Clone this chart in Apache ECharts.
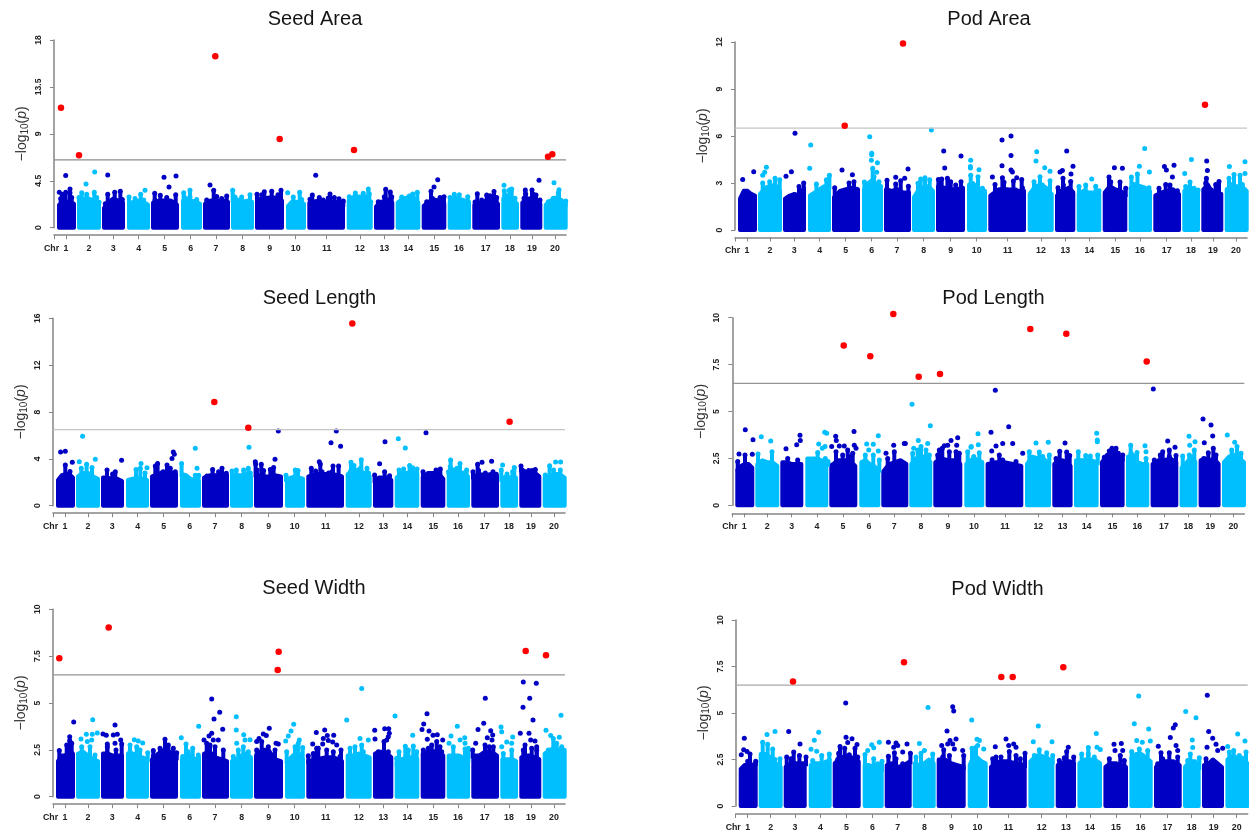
<!DOCTYPE html>
<html>
<head>
<meta charset="utf-8">
<style>html,body{margin:0;padding:0;background:#fff}#c{width:1249px;height:832px}</style>
<script src="https://cdn.jsdelivr.net/npm/echarts@6/dist/echarts.min.js"></script>
</head>
<body>
<div id="c"></div>
<script>
// Chromosome spans and tick positions on the shared genome axis
const chromLabels = ['1','2','3','4','5','6','7','8','9','10','11','12','13','14','15','16','17','18','19','20'];
const chromStart = [0,20,45,70,94,124,146,174,198,229,250.3,289.7,317,338.7,364.7,390.7,415.3,444.3,463.3,486.7];
const chromEnd = [19,44,68,93,122,145,173,197,227,249,288,315.7,337.3,363.3,389.3,414,443,462,485.3,510.7];
const chromTicks = [9,32,56.3,81.7,107.7,133.7,159,185.7,212.7,238.7,269.7,303,327.3,351.3,377.3,402,428.7,453,475,498];
const threshold = 6.5;

// Seed Area
const seedAreaTops = [[2.2,2.5,2.5,2.5,2.3],[2.5,2.8,2.8,2.6,2.2],[1.9,2.5,2.8,2.6,2.4],[2.3,2.5,2.6,2.5,2.2],[2.4,2.6,2.6,2.6,2.2],[2.6,2.8,2.6,2.5,2.3],[2.3,2.6,2.5,2.6,2.5],[2.7,2.7,2.5,2.6,2.5],[2.7,2.8,2.9,2.9,2.6],[2.1,2.5,2.5,2.4,2.3],[2.4,2.6,2.5,2.5,2.3],[2.6,3.0,3.0,3.0,2.4],[2.0,2.5,2.5,2.6,2.4],[2.4,2.8,2.9,2.9,2.4],[2.1,2.5,2.7,2.6,2.3],[2.5,2.9,2.8,2.6,2.5],[2.2,2.4,2.6,2.6,2.3],[2.8,3.0,2.8,2.7,2.3],[2.4,2.8,2.8,2.6,2.3],[2.2,2.6,2.9,2.7,2.3]];
const seedAreaHits = [[4,11.5],[22,6.95],[158.3,16.45],[222.7,8.5],[297,7.45],[491,6.8],[495.3,7.05]];
const seedAreaDots = [[8.7,5],[2.3,3.4],[5,3.2],[8.7,3.4],[13,3.7],[13,3.35],[3.7,2.8],[14.7,2.9],[37.7,5.35],[29,4.2],[24.7,3.35],[29.7,3.2],[37.3,3.4],[22,2.9],[39.7,2.9],[42,2.45],[50.7,5.05],[50.7,3.2],[57.7,3.4],[63.3,3.5],[65.3,2.7],[48.3,2.3],[88,3.6],[83.7,3.2],[72,2.95],[78,2.8],[86.7,2.65],[107,4.85],[119,4.95],[112,3.9],[97.7,3.3],[103.3,3.1],[98,2.65],[109.7,2.9],[118.7,3.15],[133,3.6],[126.7,3.35],[133,2.95],[139.7,2.7],[127.3,2.95],[153,4.1],[156.7,3.6],[159.7,3],[169.7,3.05],[164.7,2.8],[149.7,2.65],[175.7,3.6],[184.7,2.95],[193,3.15],[178,2.95],[224,3.6],[200,3.2],[207.3,3.45],[214.7,3.5],[221,3.15],[204.7,3.15],[230.7,3.35],[242.7,3.4],[236.3,2.95],[244.7,2.7],[258.7,5.02],[255.3,3.14],[253,2.72],[262.3,2.9],[273,3.23],[271.3,2.85],[277.3,2.9],[282,2.78],[286.3,2.56],[266.3,2.66],[298.3,3.33],[306.3,3.3],[311.3,3.71],[312.3,3.26],[292.3,2.98],[301.3,2.82],[313.7,2.5],[328.7,3.68],[333.3,3.42],[327.3,2.98],[334.7,2.98],[321.3,2.5],[331.3,2.66],[360.3,3.39],[355.7,3.23],[352.3,3.04],[344.7,2.94],[358,2.72],[349,2.78],[380.7,4.61],[377,3.9],[374,3.49],[375.3,2.82],[387,2.98],[383,2.9],[369.7,2.5],[402.3,3.17],[397.3,3.2],[410.7,2.98],[393,2.9],[406.3,2.6],[399.7,2.78],[420.3,3.26],[429.7,3.14],[433,3.07],[437,3.46],[439.7,2.9],[424.7,2.66],[418,2.46],[447,4.06],[447.3,3.55],[454.7,3.71],[452.3,3.62],[448,3.14],[458,2.82],[482,4.54],[468.3,3.62],[475,3.62],[468.7,3.23],[476.3,3.2],[479,3.14],[467,2.82],[474.7,2.82],[483,2.66],[497,4.32],[502,3.65],[501.3,3.36],[508.7,2.56],[496.3,2.82],[491.3,2.5]];

// Pod Area
const podAreaTops = [[2.0,2.5,2.5,2.3,2.2],[2.3,2.7,2.8,2.9,2.5],[2.0,2.2,2.3,2.2,2.7],[2.2,2.4,2.6,2.8,2.8],[2.1,2.5,2.6,2.7,2.6],[2.6,3.0,3.2,2.9,2.5],[2.6,2.5,2.6,2.4,2.4],[2.1,2.6,2.7,2.8,2.5],[2.8,2.7,2.6,2.6,2.7],[2.9,3.0,2.7,2.6,2.5],[2.2,2.6,2.6,2.5,2.5],[2.3,2.8,2.9,2.7,2.3],[2.2,2.5,2.6,2.7,2.4],[2.3,2.5,2.4,2.4,2.3],[2.4,2.8,2.6,2.5,2.3],[2.7,2.9,2.8,2.7,2.5],[2.2,2.4,2.5,2.6,2.3],[2.5,2.6,2.5,2.4,2.3],[2.6,2.9,2.4,2.4,2.3],[2.6,2.8,2.8,2.8,2.5]];
const podAreaHits = [[165,11.9],[106.7,6.65],[467,8]];
const podAreaDots = [[15.7,3.72],[4.7,3.23],[28.4,4],[26.7,3.68],[24.7,3.5],[37,3.3],[41.7,3.2],[31.7,3.08],[24.7,3],[57,6.17],[53.4,3.72],[48,3.43],[65.7,3],[61,2.77],[72.7,5.42],[71.7,3.94],[91.4,3.5],[88.4,3.2],[78.4,2.93],[104,3.83],[114.4,3.53],[111,3],[116,3.08],[96.7,2.7],[131.7,5.95],[133.7,4.9],[133.7,4.8],[133.4,4.45],[139.4,4.3],[126.4,3.06],[134.7,3.94],[138.7,3.68],[136,3.4],[141,3.08],[142.7,2.77],[170,3.9],[157.7,3.36],[149,3.17],[166.7,3.3],[162.7,3.15],[157.7,2.94],[170.4,2.8],[193.4,6.38],[182.7,3.26],[187,3.34],[191.7,3.2],[180,2.98],[190.4,2.55],[205.7,5.05],[206.7,3.95],[223,4.72],[200.4,3.23],[203.7,3.26],[209.4,3.3],[212.7,3.08],[223,3.08],[217.7,2.87],[232.7,4.45],[232.4,4.05],[232.4,3.95],[241,3.85],[232.7,3.5],[240,3.4],[244.4,2.66],[264,5.75],[273,6],[273,4.75],[264,4.1],[273,3.83],[274.4,3.7],[254.4,3.38],[278.7,3.34],[283.7,3.23],[275.4,3.13],[257,2.9],[264.4,3.34],[266,3.05],[284.4,2.7],[272.7,2.55],[277.7,2.55],[298.7,5],[298,4.4],[306.7,3.98],[312,3.75],[302,3.4],[312,3.15],[296,3.08],[304.4,2.87],[328.7,5.05],[335,4.07],[324.4,3.8],[322,3.7],[333,3.57],[325,3.3],[325.4,2.87],[320,2.7],[332.7,3.1],[353.7,3.26],[347.7,2.87],[341,2.77],[357.7,2.8],[361,2.5],[376.4,3.98],[384.4,3.94],[371,3.38],[372.7,3.08],[382,3.06],[387.7,2.66],[406.7,5.2],[401.4,4.07],[411.4,3.7],[399.4,3.57],[393.4,3.38],[396,2.9],[411,2.7],[426.4,4.05],[436,4.13],[428.4,3.83],[434.4,3.38],[427.7,2.9],[432,2.87],[421,2.66],[439.4,2.5],[453.4,4.5],[446.7,3.6],[452,3.06],[447.7,2.77],[456,2.66],[460,2.55],[468.7,4.4],[469.4,3.8],[468.4,3.3],[467.7,3],[481,3.1],[477.7,2.9],[473.4,2.55],[491.4,4.05],[507,4.35],[507,3.6],[496,3.55],[502,3.5],[491,3.3],[494.4,2.9],[504.4,2.9]];

// Seed Length
const seedLengthTops = [[2.2,2.6,2.7,2.7,2.4],[2.5,2.8,2.8,2.5,2.3],[2.4,2.4,2.3,2.3,2.1],[2.2,2.3,2.4,2.3,2.2],[2.5,2.7,2.9,2.9,2.7],[2.7,2.6,2.3,2.2,2.1],[2.4,2.6,2.6,2.6,2.6],[2.6,2.6,2.6,2.7,2.5],[2.7,2.5,2.5,2.6,2.5],[2.3,2.4,2.5,2.4,2.3],[2.5,2.7,2.7,2.7,2.5],[2.7,3.0,3.1,2.8,2.5],[2.2,2.4,2.4,2.4,2.2],[2.4,2.8,2.8,2.9,2.8],[2.4,2.8,2.8,2.8,2.3],[2.9,3.1,2.9,2.7,2.5],[2.5,2.7,2.6,2.7,2.5],[2.3,2.5,2.4,2.5,2.4],[3.1,2.9,2.8,2.8,2.5],[2.4,2.6,2.7,2.7,2.4]];
const seedLengthHits = [[158.3,8.85],[192.3,6.66],[296.3,15.55],[453.6,7.17]];
const seedLengthDots = [[4.6,4.58],[9.3,4.64],[9.3,3.47],[16.3,3.7],[14,2.93],[26.6,5.92],[23.3,3.76],[30.6,3.53],[39.3,3.96],[36,3.27],[25.3,3.19],[65.6,3.87],[51,3.05],[59.3,2.9],[56.6,2.7],[85,3.6],[80,3.1],[91,3.25],[89,2.8],[84.3,3.2],[117.3,4.58],[118.3,4.4],[116,4.04],[101.6,3.6],[99.3,3.39],[111,3.47],[114.3,3.19],[107,2.9],[119.3,2.9],[139.3,4.9],[125.6,3.6],[141,3.2],[142.6,2.6],[139.3,2.6],[156.6,3.1],[166,3.19],[162.6,2.9],[170.3,2.76],[151,2.53],[193,4.98],[192.3,3.2],[180.3,3.05],[187.6,3.05],[176,2.96],[194.3,2.8],[222.3,6.38],[219,3.96],[199.3,3.76],[199.6,3.56],[205.3,3.53],[217.6,3.27],[201,3.05],[207.6,3],[214.3,3.1],[230,2.6],[239.3,3.05],[242,3],[280.3,6.38],[275,5.38],[284.6,5.07],[263.3,3.76],[264.3,3.56],[255.3,3.19],[259.6,2.96],[266,2.9],[272.6,2.8],[277,3.39],[282.6,3.39],[284.6,2.48],[276,2.9],[305.3,3.93],[295,3.7],[298,3.44],[311,3.2],[304.3,3.2],[294.3,2.9],[312.6,2.76],[323.6,3.59],[318.6,2.62],[328.6,2.9],[333.6,2.56],[329,5.47],[342.3,5.72],[349.3,4.92],[353.6,3.44],[361,3.13],[356.6,3.25],[347.6,3.13],[343,3.05],[352.6,2.76],[370,6.23],[367,2.9],[380,3.05],[384.3,3.13],[383.6,2.76],[372.6,2.48],[394.6,3.9],[404,3.6],[410.6,3.05],[394.3,3.33],[401,3.19],[392.6,2.9],[407.6,2.8],[426,3.7],[421.6,3.53],[435.6,3.8],[417,2.9],[422.6,3],[437,2.9],[440.3,2.68],[429.3,2.8],[446.6,3.47],[445.3,3.05],[458.3,3.27],[456.6,2.9],[451,2.7],[465,3.39],[479.3,3.1],[472.6,3],[466,3.05],[476,3],[493.6,3.42],[499.6,3.73],[504.6,3.73],[497.6,3.05],[504.3,3.05],[489.3,2.62]];

// Pod Length
const podLengthTops = [[1.9,2.1,2.2,2.2,2.0],[2.2,2.4,2.3,2.3,2.1],[2.3,2.3,2.2,2.2,2.2],[2.5,2.5,2.5,2.4,2.2],[2.1,2.4,2.4,2.4,2.1],[2.3,2.4,2.2,2.1,1.9],[1.8,2.2,2.3,2.4,2.2],[2.2,2.5,2.6,2.6,2.3],[2.3,2.5,2.4,2.4,2.2],[2.2,2.4,2.5,2.4,2.3],[2.2,2.3,2.3,2.2,2.1],[2.2,2.6,2.5,2.5,2.2],[2.2,2.4,2.4,2.3,2.1],[2.4,2.4,2.4,2.4,2.3],[2.3,2.7,2.7,2.7,2.5],[2.6,2.7,2.3,2.2,2.2],[2.2,2.4,2.4,2.5,2.3],[2.0,2.2,2.4,2.6,2.3],[2.4,2.5,2.4,2.5,2.2],[2.3,2.6,2.7,2.5,2.3]];
const podLengthHits = [[108.4,8.52],[135,7.94],[158,10.2],[183.4,6.85],[204.7,7],[295,9.4],[331,9.15],[411.4,7.67]];
const podLengthDots = [[10,4.03],[17.7,3.5],[3.7,2.73],[9.7,2.68],[17,2.72],[2.4,2.33],[26,3.66],[35.4,3.43],[36.7,2.86],[22.7,2.73],[64.7,3.73],[65,3.46],[61.4,3.23],[50.7,3.02],[52.4,2.5],[62.4,2.42],[89.4,3.89],[91.4,3.84],[83.4,3.27],[89.7,3.13],[87,3.04],[82.4,2.82],[90,2.5],[92.7,2.33],[100.4,3.68],[101,3.45],[96.4,3.13],[118.7,3.93],[104,3.16],[109,3.16],[119,3.2],[120.7,3.04],[112.4,2.95],[107.4,2.68],[100.7,2.86],[117.4,2.77],[97,2.15],[115.7,2.6],[131.4,3.27],[138,3.25],[143,3.71],[133.4,2.95],[143,2.9],[138,2.68],[130,2.68],[144,2.42],[158.4,3.2],[169,3.29],[170,3.3],[150.7,2.77],[159,2.86],[152.4,2.5],[176.7,5.38],[195,4.24],[183,3.45],[192.4,3.3],[178.4,3.04],[185.7,3.13],[182.4,2.95],[177.4,2.77],[190.7,2.95],[194,2.68],[222.4,3.6],[215.7,3.45],[221.4,3.2],[209,3.18],[204,2.95],[212.4,3.2],[207,3.04],[220.7,2.86],[202.4,2.68],[224,2.77],[214,2.86],[242.7,3.82],[236,3.13],[243,3.23],[232.4,2.86],[237.4,2.42],[235.7,3.1],[244,2.8],[238.4,2.6],[260,6.13],[255.7,3.89],[273.4,4.19],[277.4,3.29],[267.4,3.3],[260.7,3.16],[256.4,2.9],[264,2.68],[287.4,2.77],[256.7,2.42],[267.4,2.42],[280.7,2.33],[300.7,3.32],[313,3.36],[294,2.86],[304,2.84],[314,2.68],[307.4,2.6],[329.7,3.32],[324.4,2.88],[331.4,2.84],[334.4,2.66],[320.7,2.5],[329,2.33],[343,2.86],[350.4,2.65],[355,2.63],[361.4,3.84],[362,3.48],[362,3.39],[362.4,2.68],[380.7,3.04],[374,2.9],[376.7,3.04],[383,2.77],[387.4,2.68],[369,2.56],[395.4,3.2],[409.7,3.18],[410.7,2.86],[395.7,2.77],[401.7,2.82],[410.7,2.5],[394,2.5],[418,6.2],[432.4,3.43],[439.7,3.1],[427.4,2.86],[434,2.95],[440.7,2.66],[419,2.42],[425,2.68],[434,2.6],[453.7,3.68],[454.4,3.2],[459.7,3.39],[459,2.95],[447.4,2.63],[454,2.68],[467.7,4.6],[475.7,4.28],[477.4,3.69],[469,3.34],[478,3.04],[473,2.8],[480.7,2.68],[468.4,2.5],[492,3.75],[499.4,3.36],[501.7,3.13],[496.4,2.95],[505.7,2.77],[497.4,2.68],[490.7,2.33]];

// Seed Width
const seedWidthTops = [[1.9,2.2,2.2,2.5,2.3],[2.3,2.4,2.2,2.0,1.9],[2.3,2.3,2.2,2.2,2.2],[2.3,2.3,2.2,2.1,2.0],[2.0,2.3,2.5,2.4,2.1],[2.0,2.2,2.2,2.0,2.1],[2.3,2.4,2.1,2.0,1.9],[1.9,2.0,2.2,2.3,2.1],[2.2,2.5,2.5,2.0,1.9],[1.9,2.1,2.3,2.3,2.0],[1.9,2.0,2.1,2.1,1.9],[2.2,2.2,2.3,2.2,2.1],[2.3,2.4,2.4,2.3,2.1],[1.8,2.0,2.1,2.1,2.0],[2.3,2.4,2.4,2.4,2.2],[2.2,2.2,2.2,2.1,2.0],[2.2,2.2,2.4,2.4,2.2],[2.0,2.0,2.0,2.0,1.9],[2.1,2.2,2.2,2.1,2.0],[2.3,2.5,2.6,2.5,2.5]];
const seedWidthHits = [[3.3,7.39],[52.7,9.03],[222.7,7.74],[221.7,6.76],[469.7,7.78],[490,7.55]];
const seedWidthDots = [[17.7,3.99],[13.7,3.2],[13.7,3],[10.7,2.76],[3.3,2.46],[15.7,2.85],[36.7,4.11],[30.3,3.33],[36.3,3.33],[41.3,3.4],[25,3.08],[31.3,2.94],[35.7,3.03],[25.7,2.67],[34,2.67],[39,2.22],[59,3.83],[47,3.35],[50.3,3.28],[57.3,3.29],[61.3,3.33],[64.7,3.03],[51.3,2.81],[59,2.85],[65.7,2.81],[51.3,2.67],[60,2.49],[78.3,3.04],[82.3,2.97],[86.7,2.87],[74,2.76],[80.7,2.67],[74,2.4],[91.7,2.35],[84,2.49],[109,3.06],[97.3,2.46],[104,2.58],[112.3,2.76],[117.3,2.58],[120.7,2.35],[97.3,2.17],[142.7,3.76],[125.3,3.15],[130,2.81],[136.7,2.58],[132.3,2.4],[142.3,2.22],[126.7,2.14],[155.7,5.22],[163.7,4.5],[158,4.15],[166.7,3.6],[155.7,3.38],[153,3.24],[148,3.03],[157.3,3.03],[162.3,3.03],[150.7,2.85],[154,2.76],[167.3,2.49],[159,2.67],[180.3,4.27],[180.3,3.56],[187.7,3.31],[194,3.04],[189,3.03],[180.7,2.85],[187.3,2.67],[192.3,2.4],[182.3,2.49],[177.3,2.14],[213.3,3.65],[207.3,3.35],[210.3,3.26],[203,3.11],[200.7,2.94],[205.7,2.94],[220,2.85],[222.3,2.81],[219,2.49],[212.3,2.67],[200.7,2.49],[237.7,3.86],[235,3.5],[232.3,3.24],[229.7,2.97],[243.3,3.03],[239,2.67],[246.7,2.62],[230.7,2.4],[242.3,2.85],[260.3,3.43],[256.7,2.81],[252.3,2.19],[260.7,2.58],[268.7,3.56],[271.3,3.26],[277.7,3.28],[267.3,3.1],[272.3,3],[266.7,2.81],[276.7,2.92],[280.7,2.76],[262.3,2.58],[285,2.49],[270.7,2.49],[277.3,2.4],[257.3,2.31],[284,2.14],[305.7,5.77],[290.7,4.09],[304,3.1],[312.3,3.03],[299,2.67],[305.7,2.76],[294,2.58],[307.3,2.4],[318.7,3.54],[319,3.08],[328.7,3.63],[332.7,3.63],[333.3,3.38],[332.3,3.2],[328,2.94],[330.7,3.03],[339,4.31],[332.3,2.4],[322.3,2.4],[320,2.05],[356.7,3.28],[349.3,2.69],[357.3,2.7],[343,2.4],[352.3,2.49],[360.7,2.4],[340.7,2.05],[371,4.43],[367.7,3.88],[366,3.58],[373,3.5],[377,3.28],[381.3,3.31],[371.3,3.06],[380.7,2.94],[386.7,3.03],[375.7,2.76],[384,2.67],[367.3,2.49],[372.3,2.58],[385.7,2.4],[379,2.4],[401.3,3.76],[395,3.24],[408.7,3.15],[404,3.03],[393,2.85],[409,2.85],[397.3,2.67],[412.3,2.58],[409,2.55],[429.3,5.25],[427.7,3.92],[422,3.58],[434.7,3.52],[436.7,3.29],[431.3,3.15],[436,3.03],[419.7,2.85],[429,2.76],[433.3,2.67],[416.7,2.49],[437.3,2.67],[427.3,2.31],[445,3.72],[445.7,3.47],[456.7,3.19],[450.7,2.92],[455.7,2.85],[445.7,2.67],[455.7,2.49],[447.3,2.31],[467.3,6.12],[480.3,6.05],[473.7,5.25],[467,4.77],[477,4.09],[464.3,3.38],[473,3.38],[474.7,3.03],[479,2.97],[469,2.76],[480.7,2.67],[467.3,2.49],[480.7,2.49],[475.7,2.58],[505,4.34],[490,3.54],[494.7,3.26],[503.3,3.17],[497.3,3.11],[500.7,2.85],[505.7,2.67],[492.3,2.49]];

// Pod Width
const podWidthTops = [[2.0,2.2,2.2,2.2,2.3],[2.8,2.8,2.6,2.3,2.1],[2.1,2.3,2.3,2.3,2.3],[2.2,2.3,2.3,2.3,2.5],[2.3,2.6,2.7,2.6,2.4],[2.2,2.2,2.1,2.1,2.0],[2.2,2.3,2.1,2.2,2.4],[2.3,2.2,2.3,2.5,2.3],[2.5,2.5,2.3,2.2,2.1],[2.2,2.7,2.6,2.4,2.3],[2.1,2.4,2.4,2.3,2.2],[2.4,2.7,2.7,2.6,2.4],[2.2,2.3,2.4,2.4,2.3],[2.3,2.5,2.5,2.5,2.3],[2.1,2.3,2.3,2.2,2.1],[2.6,2.8,2.8,2.6,2.4],[2.1,2.4,2.4,2.4,2.2],[2.1,2.3,2.4,2.4,2.1],[2.2,2.3,2.5,2.3,2.1],[2.5,2.7,2.6,2.6,2.3]];
const podWidthHits = [[54.3,6.7],[165.3,7.73],[262.6,6.93],[274,6.94],[324.6,7.46]];
const podWidthDots = [[5.6,3.64],[5,3.02],[8.3,2.93],[11.3,2.8],[2.6,2.75],[9,2.4],[17,2.4],[28.3,3.84],[36.3,4],[24,3.43],[29,3.32],[34,3.07],[41.3,2.54],[36.3,2.5],[50,4.01],[61.3,3.34],[55,2.9],[48,2.63],[60.7,2.72],[67.3,2.63],[52.3,2.54],[80,3.96],[75.6,3.53],[72.3,3.05],[78,2.95],[83,2.72],[90.6,2.8],[74,2.45],[87.3,2.36],[107,5.54],[107.3,3.69],[113.3,3.62],[109,3.41],[101.3,3.2],[106,3.1],[118.3,3.3],[116.3,3.1],[100,2.84],[110.6,2.75],[99,2.5],[119,2.63],[140.6,3.43],[133,3.29],[135,3.13],[129,2.98],[126.3,2.77],[135,2.54],[143.3,2.41],[139,2.27],[149.7,3.43],[157.3,3.39],[168.3,3.34],[159,3.25],[155,3.16],[149.7,2.68],[155.7,2.86],[164,2.9],[171.7,2.84],[157.3,2.54],[164,2.27],[189.3,5.29],[180.7,3.36],[185.7,2.98],[182.3,2.84],[177.3,2.63],[194,2.8],[214,5.33],[215,5.11],[208.3,4.03],[217.3,3.6],[211.3,3.52],[203,3.25],[209,3.34],[214,3.34],[205,3.02],[215.7,3.07],[224,2.98],[225,2.72],[210.7,2.72],[204,2.63],[233,4.62],[238.3,3.59],[240.7,3.52],[233.3,3.1],[237.3,3.16],[239,3.25],[245,3.07],[235.7,2.8],[267.3,3.6],[256.6,3.18],[275,3.34],[277.3,3.16],[270,3.25],[270.6,2.93],[286.3,2.84],[254,2.54],[262.3,2.63],[277.3,2.72],[257.3,2.63],[281.6,2.54],[299.6,4.3],[294.6,3.45],[313.3,3.45],[300.6,3.02],[308,2.86],[295.6,2.72],[314,2.72],[329.6,3.16],[328,2.93],[335,2.63],[325.6,2.6],[320.6,2.45],[357.6,3.9],[349.6,3.14],[358.3,3.16],[361.6,3.04],[343,2.8],[349.6,2.8],[355.6,2.63],[375.3,3.32],[382.6,3.36],[384,2.98],[376.3,2.98],[381.6,2.72],[370.6,2.54],[385.6,2.45],[400,5.91],[395.6,4.42],[410,4.14],[398,3.52],[403.6,3.43],[411.6,3.5],[393,2.93],[400.6,3.07],[409,2.98],[404,2.72],[447,5.08],[457.3,4.74],[436.6,4.37],[434.6,4.19],[431.6,3.68],[419.6,3.21],[437.3,3.25],[439,2.98],[430.6,2.86],[422.3,2.86],[419,2.27],[424,2.54],[439,2.63],[453.6,3.55],[454,3.14],[451.6,2.8],[460.6,2.6],[449,2.45],[468.6,5.95],[470,4.01],[474,3.64],[468.3,3.16],[477.3,3.32],[484,3.1],[479,2.98],[474,2.45],[467.3,2.54],[499,3.87],[506.3,3.5],[489,3.2],[495,2.98],[490.6,2.9],[507.3,2.9],[500.6,2.72]];

const DARK = '#0000c4', LIGHT = '#00bfff', RED = '#ff0000', AXIS = '#858585', INK = '#222';
const FONT = '"Liberation Sans", Arial, sans-serif';
const X_MIN = -3, X_MAX = 509, STEM_PX = 12;

const panels = [
  {name:'Seed Area',   tops:seedAreaTops,   dots:seedAreaDots,   hits:seedAreaHits,   yMax:18, step:4.5, left:54,    top:40,    h:187.7, cx:315,   cy:19,  line:'#8c8c8c', off:7.5},
  {name:'Pod Area',    tops:podAreaTops,    dots:podAreaDots,    hits:podAreaHits,    yMax:12, step:3,   left:735,   top:42,    h:188,   cx:989,   cy:19,  line:'#c4c4c4', off:7.5},
  {name:'Seed Length', tops:seedLengthTops, dots:seedLengthDots, hits:seedLengthHits, yMax:16, step:4,   left:53,    top:318.3, h:187.4, cx:319.5, cy:298, line:'#c4c4c4', off:7.5},
  {name:'Pod Length',  tops:podLengthTops,  dots:podLengthDots,  hits:podLengthHits,  yMax:10, step:2.5, left:732.3, top:317.7, h:187.6, cx:993.5, cy:298, line:'#959595', off:8},
  {name:'Seed Width',  tops:seedWidthTops,  dots:seedWidthDots,  hits:seedWidthHits,  yMax:10, step:2.5, left:53,    top:609.3, h:187.4, cx:314,   cy:588, line:'#959595', off:7.5},
  {name:'Pod Width',   tops:podWidthTops,   dots:podWidthDots,   hits:podWidthHits,   yMax:10, step:2.5, left:735.7, top:620,   h:187.7, cx:997.5, cy:589, line:'#a8a8a8', off:8}
];

function chromIndex(x){
  for (let i = 0; i < chromEnd.length; i++) if (x <= chromEnd[i] + 0.5) return i;
  return chromEnd.length - 1;
}
function localTop(tops, x){
  const i = chromIndex(x), t = tops[i], s = chromStart[i] + 2, e = chromEnd[i] - 2;
  const f = Math.max(0, Math.min(1, (x - s) / (e - s))) * (t.length - 1), k = Math.min(Math.floor(f), t.length - 2);
  return t[k] + (t[k + 1] - t[k]) * (f - k);
}
function bodyRender(tops){
  return function(params, api){
    const i = api.value(2), s = chromStart[i] + 2, e = chromEnd[i] - 2, t = tops[i];
    const pts = [api.coord([s, 0])];
    t.forEach((v, k) => pts.push(api.coord([s + (e - s) * k / (t.length - 1), v])));
    pts.push(api.coord([e, 0]));
    const c = i % 2 ? LIGHT : DARK;
    return {type:'polygon', shape:{points:pts}, style:{fill:c, stroke:c, lineWidth:4, lineJoin:'round'}};
  };
}
// Dots close above the dense mass merge with it, as overplotted points do
function stemRender(tops){
  return function(params, api){
    const x = api.value(0), y = api.value(1), a = api.coord([x, y]), b = api.coord([x, localTop(tops, x)]);
    if (b[1] - a[1] > STEM_PX) return null;
    const c = chromIndex(x) % 2 ? LIGHT : DARK;
    return {type:'line', shape:{x1:a[0], y1:a[1], x2:b[0], y2:b[1] + 3}, style:{stroke:c, lineWidth:4}};
  };
}

const option = {
  animation:false,
  backgroundColor:'#fff',
  title:panels.map(p => ({text:p.name, left:p.cx, top:p.cy - 10, padding:0, textAlign:'center',
    textStyle:{fontFamily:FONT, fontSize:20, fontWeight:'normal', color:'#151515'}})),
  grid:panels.map(p => ({left:p.left, top:p.top, width:X_MAX - X_MIN, height:p.h, containLabel:false})),
  xAxis:panels.map((p, g) => ({
    type:'value', gridIndex:g, min:X_MIN, max:X_MAX, position:'bottom', offset:p.off,
    axisLine:{show:true, onZero:false, lineStyle:{color:AXIS, width:1.5}},
    axisTick:{show:true, length:4, lineStyle:{color:AXIS, width:1}, customValues:[X_MIN].concat(chromTicks)},
    axisLabel:{show:true, margin:9, fontFamily:FONT, fontSize:8.8, fontWeight:'bold', color:INK, hideOverlap:false,
      customValues:[X_MIN].concat(chromTicks),
      rich:{c:{fontFamily:FONT, fontSize:8.8, fontWeight:'bold', color:INK, padding:[0,5,0,0]}},
      formatter:v => v === X_MIN ? '{c|Chr}' : chromLabels[chromTicks.indexOf(v)]},
    splitLine:{show:false}
  })),
  yAxis:panels.map((p, g) => ({
    type:'value', gridIndex:g, min:0, max:p.yMax, interval:p.step,
    name:'{t|\u2212log}{s|10}{t|(}{i|p}{t|)}', nameLocation:'middle', nameGap:24, nameRotate:90, nameMoveOverlap:false,
    nameTextStyle:{rich:{
      t:{fontFamily:FONT, fontSize:14, color:'#333'},
      s:{fontFamily:FONT, fontSize:10, color:'#333', padding:[5,0,0,0]},
      i:{fontFamily:FONT, fontSize:14, fontStyle:'italic', color:'#333'}}},
    axisLine:{show:true, onZero:false, lineStyle:{color:AXIS, width:1.5}},
    axisTick:{show:true, length:4, lineStyle:{color:AXIS, width:1}},
    axisLabel:{show:true, rotate:90, margin:11, fontFamily:FONT, fontSize:8.6, fontWeight:'bold', color:INK},
    splitLine:{show:false}
  })),
  series:panels.flatMap((p, g) => [
    {type:'custom', name:p.name + ' mass', xAxisIndex:g, yAxisIndex:g, clip:false, silent:true, z:2,
      encode:{x:0, y:1}, renderItem:bodyRender(p.tops),
      data:chromStart.map((s, i) => [s, Math.max.apply(null, p.tops[i]), i])},
    {type:'custom', name:p.name + ' overplot', xAxisIndex:g, yAxisIndex:g, clip:false, silent:true, z:2,
      encode:{x:0, y:1}, renderItem:stemRender(p.tops), data:p.dots},
    {type:'scatter', name:p.name + ' SNPs', xAxisIndex:g, yAxisIndex:g, clip:false, silent:true, z:3,
      symbol:'circle', symbolSize:5, data:p.dots,
      itemStyle:{opacity:1, color:o => chromIndex(o.value[0]) % 2 ? LIGHT : DARK}},
    {type:'line', name:p.name + ' threshold', xAxisIndex:g, yAxisIndex:g, silent:true, symbol:'none', z:4,
      data:[[X_MIN, threshold],[X_MAX, threshold]], lineStyle:{color:p.line, width:1.2}},
    {type:'scatter', name:p.name + ' significant', xAxisIndex:g, yAxisIndex:g, clip:false, silent:true, z:5,
      symbol:'circle', symbolSize:6.5, data:p.hits, itemStyle:{opacity:1, color:RED}}
  ])
};
echarts.init(document.getElementById('c'), null, {renderer:'canvas'}).setOption(option);
</script>
</body>
</html>
